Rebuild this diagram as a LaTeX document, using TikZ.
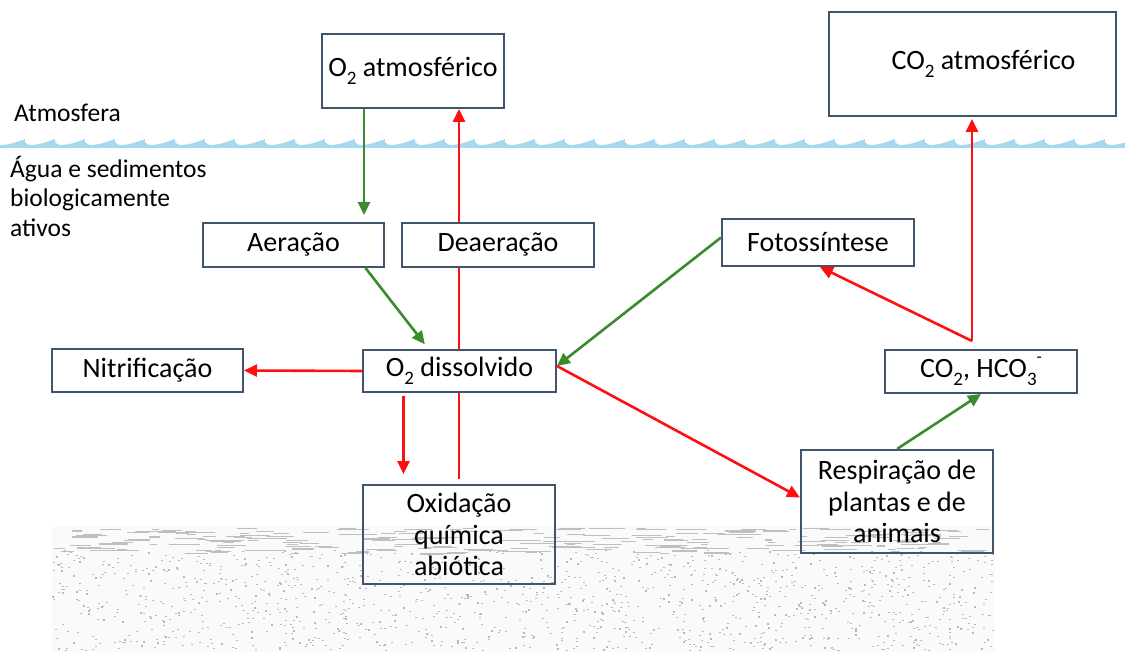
\documentclass[tikz,border=0pt]{standalone}
\usepackage{fontspec}
\setmainfont{Carlito}
\usepackage{tikz}
\usepackage{xcolor}
\usetikzlibrary{arrows.meta,calc,positioning}
\definecolor{boxline}{HTML}{41546C}
\definecolor{wave}{HTML}{A6D8EF}
\definecolor{lossred}{HTML}{FF1010}
\definecolor{gaingreen}{HTML}{3A8A2E}
\definecolor{silt}{HTML}{8A8A8A}
\newcommand{\chemsub}[1]{\raisebox{-0.28em}{\fontsize{19}{19}\selectfont #1}}
\newcommand{\chemsup}[1]{\raisebox{0.55em}{\fontsize{17}{17}\selectfont #1}}
\tikzset{
  cyclebox/.style={draw=boxline,line width=2pt,fill=white,align=center,text=black,
                   font=\fontsize{28}{31.5}\selectfont,inner sep=2pt},
  sedbox/.style={cyclebox,fill=none},
  zonelabel/.style={anchor=west,align=left,text=black,font=\fontsize{25.5}{29.5}\selectfont,inner sep=0pt},
  redflow/.style={-{Triangle[length=13pt,width=12pt]},line width=2.6pt,draw=lossred},
  redline/.style={line width=2.6pt,draw=lossred},
  greenflow/.style={-{Triangle[length=13pt,width=12pt]},line width=2.6pt,draw=gaingreen}
}
\begin{document}
\begin{tikzpicture}[x=1pt,y=-1pt]
    \useasboundingbox (0,0) rectangle (1125,652);
    % water surface
    \foreach \w in {0,30,...,1110}{
      \fill[wave] (\w,148) -- (\w,145) .. controls (\w+9,145) and (\w+17,142) .. (\w+25,139)
        .. controls (\w+24,142) and (\w+26,144) .. (\w+30,145) -- (\w+30,148) -- cycle;
    }
    % sediments
    \fill[gray!4] (52,526) rectangle (995,652);
    \pgfmathsetseed{17}
    \foreach \i in {1,...,260}{
      \pgfmathsetmacro\sx{52+925*rnd}
      \pgfmathsetmacro\sy{528+26*rnd}
      \pgfmathsetmacro\sl{6+26*rnd}
      \draw[silt!55,line width=1.1pt] (\sx,\sy) -- ++(\sl,0);
    }
    \foreach \i in {1,...,1300}{
      \pgfmathsetmacro\sx{52+940*rnd}
      \pgfmathsetmacro\sy{550+100*rnd}
      \fill[silt!60] (\sx,\sy) rectangle ++(2,1.2);
    }
    % zones
    \node[zonelabel] (atm) at (14,113) {Atmosfera};
    \node[zonelabel,anchor=north west] (agua) at (10,156) {Água e sedimentos\\biologicamente\\ativos};
    % boxes
    \node[cyclebox,minimum width=182pt,minimum height=74pt] (o2atm) at (413,71) {O\chemsub{2} atmosférico};
    \node[cyclebox,minimum width=287pt,minimum height=104pt] (co2atm) at (972.5,64) {\hspace*{22pt}CO\chemsub{2} atmosférico};
    \node[cyclebox,minimum width=181pt,minimum height=44pt] (aer) at (293.5,245) {Aeração};
    \node[cyclebox,minimum width=192pt,minimum height=44pt] (deaer) at (498,245) {Deaeração};
    \node[cyclebox,minimum width=192pt,minimum height=47pt] (foto) at (818,242.5) {Fotossíntese};
    \node[cyclebox,minimum width=191pt,minimum height=43pt] (nitri) at (147.5,370.5) {Nitrificação};
    \node[cyclebox,minimum width=193pt,minimum height=42pt] (o2dis) at (459.5,371) {O\chemsub{2} dissolvido};
    \node[cyclebox,minimum width=192pt,minimum height=43pt] (co2hco) at (981,371.5) {CO\chemsub{2}, HCO\chemsub{3}\chemsup{-}};
    \node[sedbox,minimum width=192pt,minimum height=99pt] (oxid) at (459,534.5) {Oxidação\\química\\abiótica};
    \node[sedbox,minimum width=192pt,minimum height=103pt] (resp) at (897,501.5) {Respiração de\\plantas e de\\animais};
    % oxygen
    \draw[greenflow,shorten >=7pt] ([xshift=-49]o2atm.south) -- ([xshift=-49]o2atm.south |- aer.north);
    \draw[greenflow,shorten >=6pt] ([xshift=72]aer.south) -- ([xshift=-31]o2dis.north);
    \draw[redline,shorten <=5pt] (oxid.north) -- (oxid.north |- o2dis.south);
    \draw[redline] (oxid.north |- o2dis.north) -- (oxid.north |- deaer.south);
    \draw[redflow] (oxid.north |- deaer.north) -- (oxid.north |- o2atm.south);
    \draw[redflow] (o2dis.west) -- (nitri.east);
    \draw[redflow,shorten <=3pt,shorten >=10pt] ([xshift=-56]o2dis.south) -- ([xshift=-56]o2dis.south |- oxid.north);
    \draw[greenflow] ([yshift=5]foto.west) -- ([yshift=5]o2dis.east);
    \draw[redflow] ([yshift=5]o2dis.east) -- ([yshift=4]resp.west);
    % carbon
    \coordinate (fork) at ([xshift=-9,yshift=8]co2hco.north);
    \draw[redflow] (fork) -- ([xshift=2]foto.south);
    \draw[redflow,shorten >=2pt] (fork) -- (fork |- co2atm.south);
    \draw[greenflow] (resp.north) -- (co2hco.south);
\end{tikzpicture}
\end{document}
